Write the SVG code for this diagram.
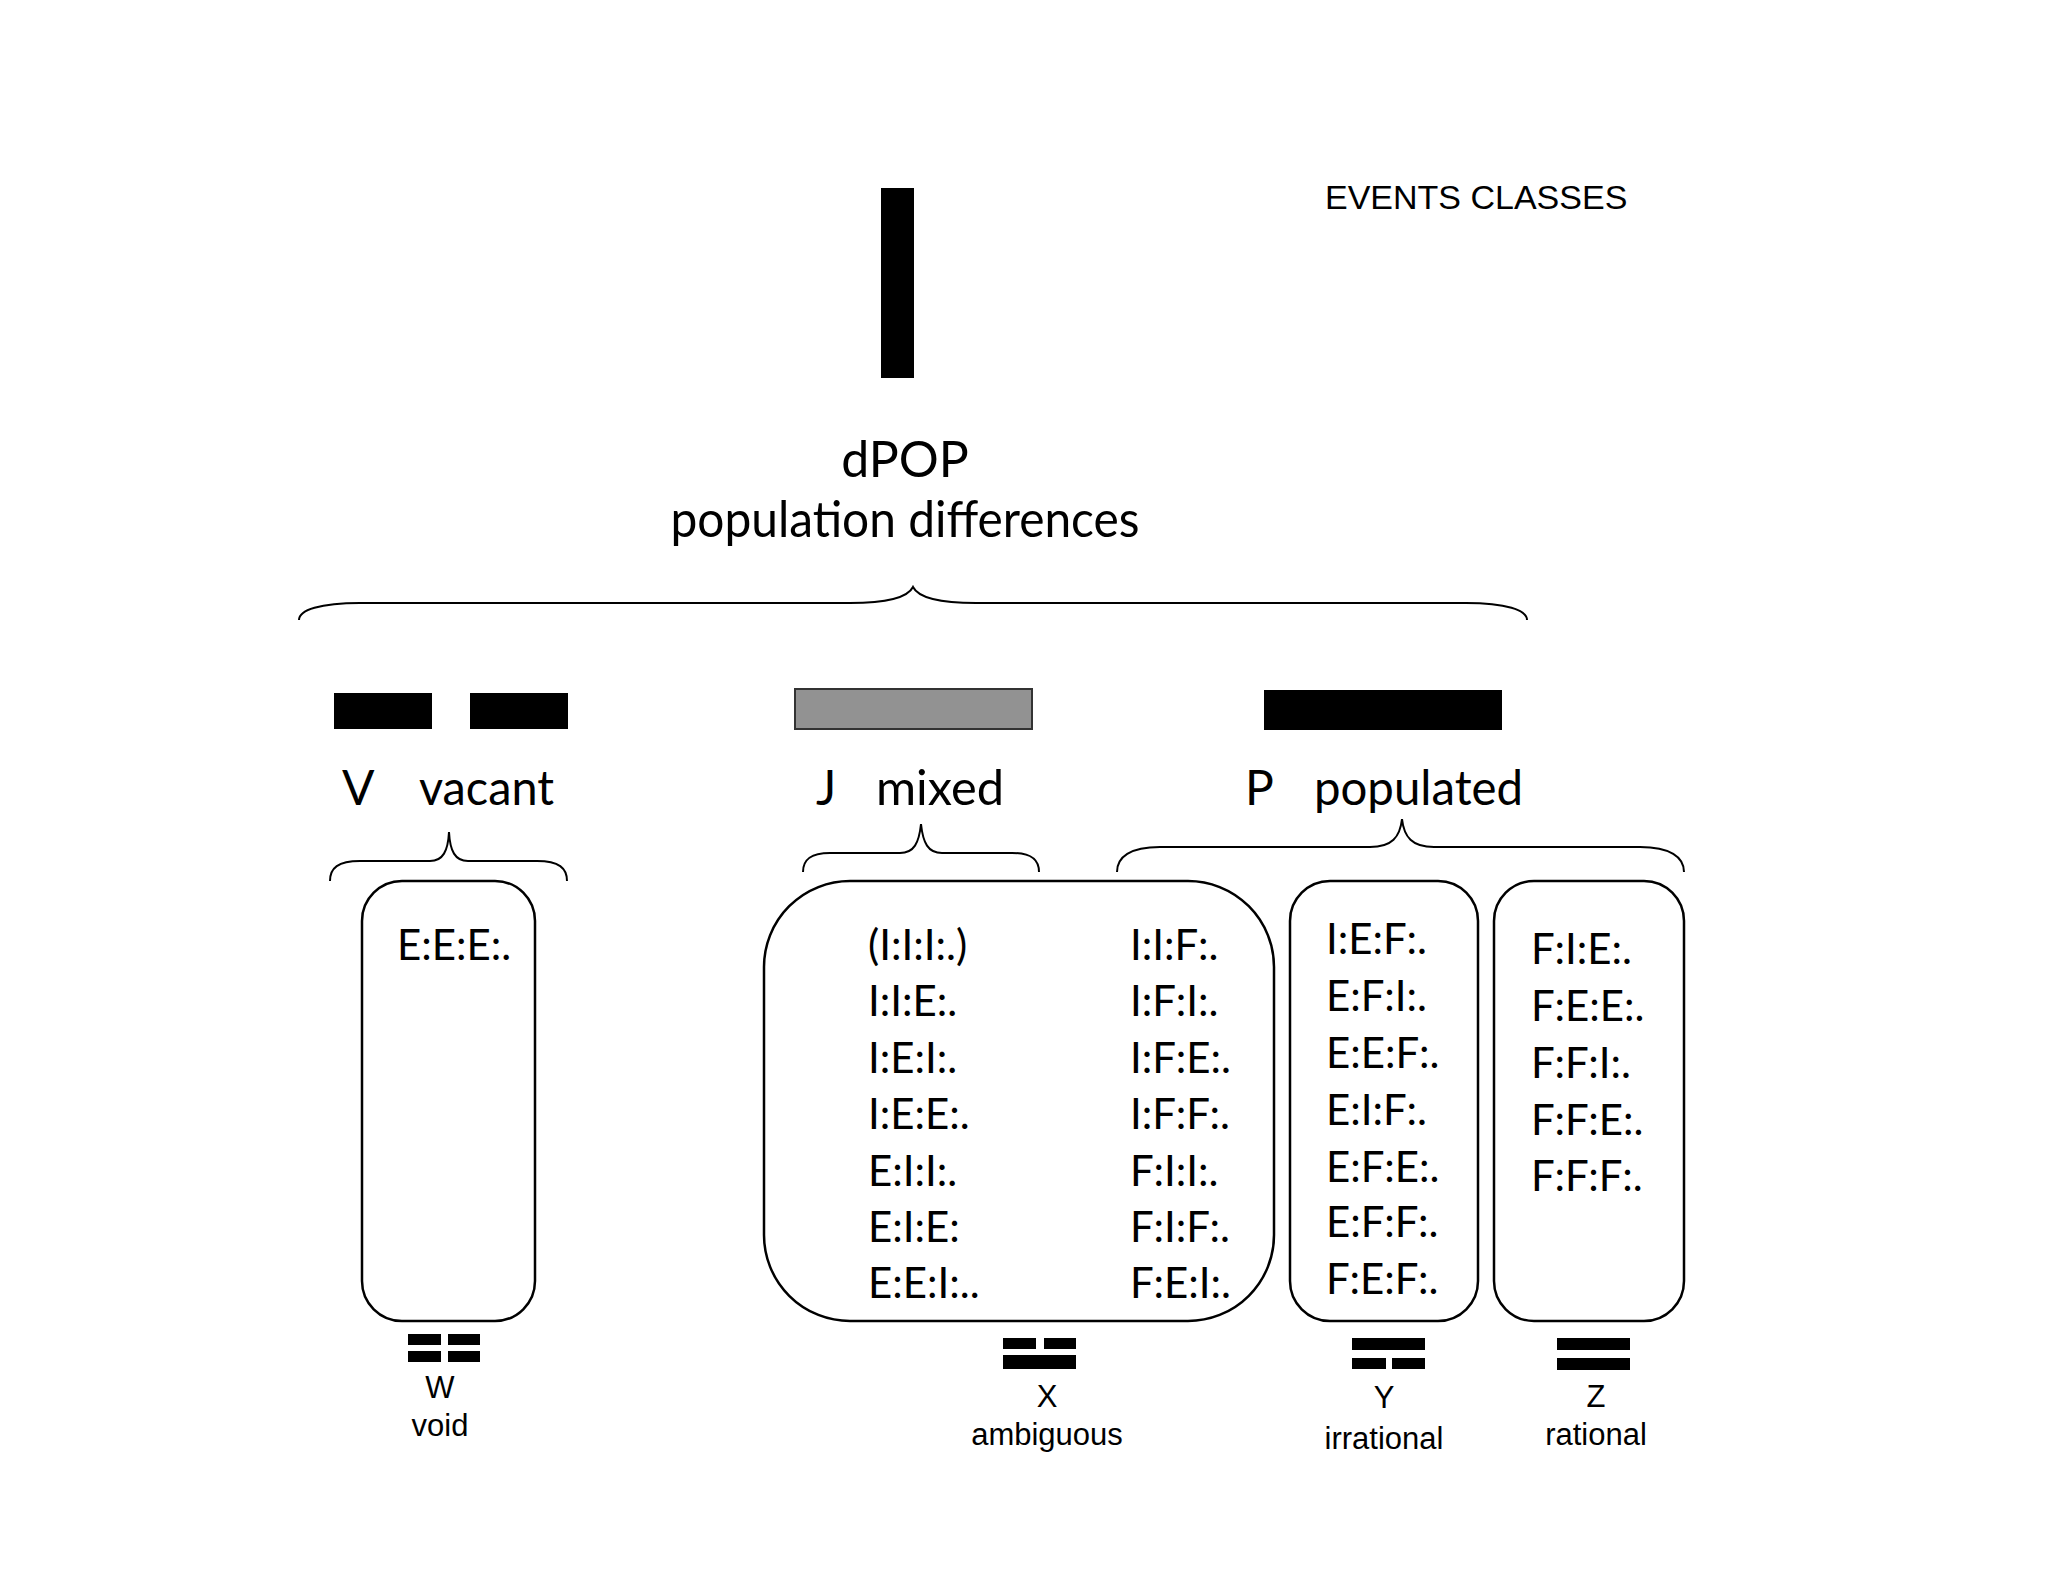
<svg xmlns="http://www.w3.org/2000/svg" width="2048" height="1582" viewBox="0 0 2048 1582">
<style>
.g{font-family:Lato,"Open Sans",sans-serif;fill:#000}
.big{font-size:50px}
.lab{font-size:48px}
.cell{font-size:42px}
.s{font-family:"Liberation Sans",Arial,sans-serif;font-size:31px;fill:#000;text-anchor:middle}
.br{fill:none;stroke:#000;stroke-width:2}
.box{fill:none;stroke:#000;stroke-width:2.5}
</style>
<rect width="2048" height="1582" fill="#fff"/>
<g id="title">
<rect x="881" y="188" width="33" height="190" fill="#000"/>
<text x="1325" y="209" font-family="Liberation Sans,Arial,sans-serif" font-size="34">EVENTS CLASSES</text>
<text class="g big" x="905" y="477" text-anchor="middle">dPOP</text>
<text class="g big" x="905" y="537" text-anchor="middle" textLength="469" lengthAdjust="spacingAndGlyphs">population differences</text>
</g>
<g id="connectors">
<path class="br" d="M299,620 C299,610 320,603 360,603 L850,603 C890,603 908,597 913,587 C918,597 936,603 976,603 L1466,603 C1506,603 1527,610 1527,620"/>
<path class="br" d="M330,881 C330,868 338,861 360,861 L430,861 C443,861 448,851 449,832 C450,851 455,861 468,861 L537,861 C559,861 567,868 567,881"/>
<path class="br" d="M803,872 C803,860 810,853 830,853 L900,853 C914,853 919,843 921,824 C923,843 928,853 942,853 L1012,853 C1032,853 1039,860 1039,872"/>
<path class="br" d="M1117,872 C1117,857 1130,847 1160,847 L1370,847 C1392,847 1400,837 1402,819 C1404,837 1412,847 1434,847 L1640,847 C1670,847 1684,857 1684,872"/>
</g>
<g id="V">
<rect x="334" y="693" width="98" height="36"/>
<rect x="470" y="693" width="98" height="36"/>
<text class="g lab" x="342" y="805">V</text>
<text class="g lab" x="419" y="805" textLength="135" lengthAdjust="spacingAndGlyphs">vacant</text>
</g>
<g id="J">
<rect x="795" y="689" width="237" height="40" fill="#929292" stroke="#333" stroke-width="2"/>
<text class="g lab" x="816" y="805">J</text>
<text class="g lab" x="876" y="805" textLength="128" lengthAdjust="spacingAndGlyphs">mixed</text>
</g>
<g id="P">
<rect x="1264" y="690" width="238" height="40"/>
<text class="g lab" x="1245" y="805">P</text>
<text class="g lab" x="1314" y="805" textLength="209" lengthAdjust="spacingAndGlyphs">populated</text>
</g>
<g id="W">
<rect class="box" x="362" y="881" width="173" height="440" rx="40"/>
<text class="g cell" x="397" y="960">E:E:E:.</text>
<rect x="408" y="1334" width="33" height="11"/><rect x="448" y="1334" width="32" height="11"/>
<rect x="408" y="1351" width="33" height="11"/><rect x="448" y="1351" width="32" height="11"/>
<text class="s" x="440" y="1398">W</text>
<text class="s" x="440" y="1436">void</text>
</g>
<g id="X">
<rect class="box" x="764" y="881" width="510" height="440" rx="86"/>
<g class="g cell">
<text x="868" y="960">(I:I:I:.)</text><text x="868" y="1016">I:I:E:.</text><text x="868" y="1073">I:E:I:.</text><text x="868" y="1129">I:E:E:.</text><text x="868" y="1186">E:I:I:.</text><text x="868" y="1242">E:I:E:</text><text x="868" y="1298">E:E:I:..</text>
<text x="1130" y="960">I:I:F:.</text><text x="1130" y="1016">I:F:I:.</text><text x="1130" y="1073">I:F:E:.</text><text x="1130" y="1129">I:F:F:.</text><text x="1130" y="1186">F:I:I:.</text><text x="1130" y="1242">F:I:F:.</text><text x="1130" y="1298">F:E:I:.</text>
</g>
<rect x="1003" y="1338" width="33" height="11"/><rect x="1044" y="1338" width="32" height="11"/>
<rect x="1003" y="1355" width="73" height="14"/>
<text class="s" x="1047" y="1407">X</text>
<text class="s" x="1047" y="1445">ambiguous</text>
</g>
<g id="Y">
<rect class="box" x="1290" y="881" width="188" height="440" rx="40"/>
<g class="g cell">
<text x="1326" y="954">I:E:F:.</text><text x="1326" y="1011">E:F:I:.</text><text x="1326" y="1068">E:E:F:.</text><text x="1326" y="1125">E:I:F:.</text><text x="1326" y="1182">E:F:E:.</text><text x="1326" y="1237">E:F:F:.</text><text x="1326" y="1294">F:E:F:.</text>
</g>
<rect x="1352" y="1338" width="73" height="12"/>
<rect x="1352" y="1358" width="34" height="11"/><rect x="1392" y="1358" width="33" height="11"/>
<text class="s" x="1384" y="1408">Y</text>
<text class="s" x="1384" y="1449">irrational</text>
</g>
<g id="Z">
<rect class="box" x="1494" y="881" width="190" height="440" rx="40"/>
<g class="g cell">
<text x="1531" y="964">F:I:E:.</text><text x="1531" y="1021">F:E:E:.</text><text x="1531" y="1078">F:F:I:.</text><text x="1531" y="1135">F:F:E:.</text><text x="1531" y="1191">F:F:F:.</text>
</g>
<rect x="1557" y="1338" width="73" height="12"/>
<rect x="1557" y="1358" width="73" height="12"/>
<text class="s" x="1596" y="1407">Z</text>
<text class="s" x="1596" y="1445">rational</text>
</g>
</svg>
